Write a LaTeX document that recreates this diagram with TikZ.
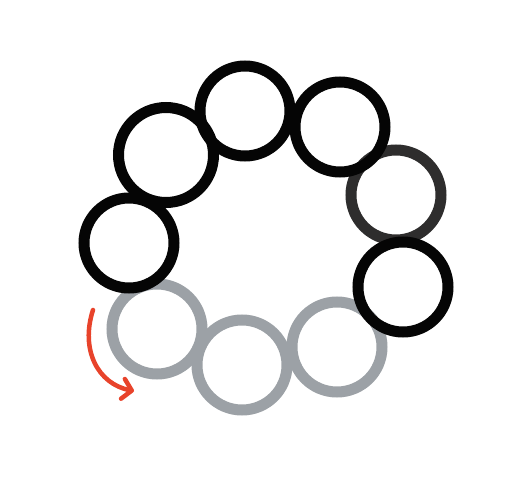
\documentclass[tikz,border=0pt]{standalone}
\usetikzlibrary{arrows.meta}
\definecolor{ringblack}{HTML}{050505}
\definecolor{ringdark}{HTML}{2E2D2D}
\definecolor{ringgray}{HTML}{9CA1A6}
\definecolor{arrowred}{HTML}{E8432B}
\tikzset{
  ring/.style={circle, draw=#1, line width=11pt, minimum size=90pt, inner sep=0pt},
  turnarrow/.style={draw=arrowred, line width=4.5pt, line cap=round,
    -{Straight Barb[length=9pt, width=20pt, line cap=round, line join=round]}}
}
\begin{document}
\begin{tikzpicture}[x=1pt, y=-1pt]
\useasboundingbox (0,0) rectangle (531,482);
% gray rings (bottom)
\node[ring=ringgray] (c9) at (157,329) {};
\node[ring=ringgray] (c8) at (242,365) {};
\node[ring=ringgray] (c7) at (337,347) {};
% dark gray ring
\node[ring=ringdark] (c5) at (396,195) {};
% black rings
\node[ring=ringblack] (c1) at (129,243) {};
\node[ring=ringblack, minimum size=95pt] (c2) at (166,155) {};
\node[ring=ringblack] (c3) at (245,111) {};
\node[ring=ringblack] (c4) at (340,127) {};
\node[ring=ringblack] (c6) at (403,287) {};
% red arrow
\coordinate (a0) at (93,310);
\coordinate (a1) at (134,391);
\draw[turnarrow] (a0) .. controls (80,350) and (98,384) .. (a1);
\end{tikzpicture}
\end{document}
